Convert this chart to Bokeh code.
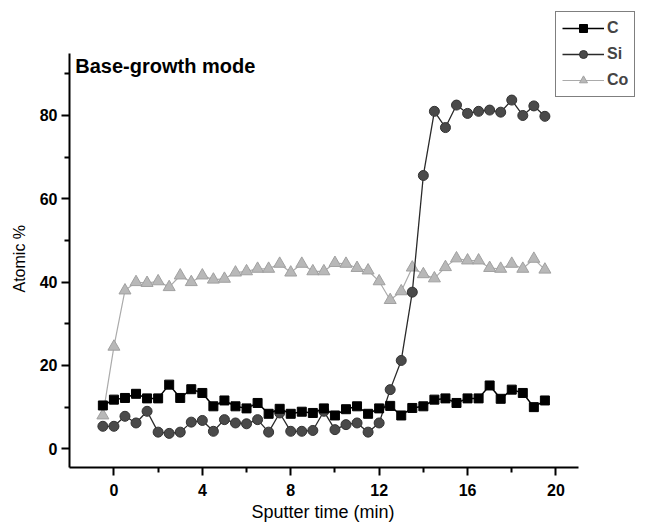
from bokeh.plotting import figure
from bokeh.models import FixedTicker, Legend, LegendItem, Label, Range1d, Title
from bokeh.embed import file_html
from bokeh.resources import INLINE

# ---- data ----
time_min = [-0.5, 0.0, 0.5, 1.0, 1.5, 2.0, 2.5, 3.0, 3.5, 4.0,
            4.5, 5.0, 5.5, 6.0, 6.5, 7.0, 7.5, 8.0, 8.5, 9.0,
            9.5, 10.0, 10.5, 11.0, 11.5, 12.0, 12.5, 13.0, 13.5, 14.0,
            14.5, 15.0, 15.5, 16.0, 16.5, 17.0, 17.5, 18.0, 18.5, 19.0, 19.5]
c_pct = [10.4, 11.8, 12.2, 13.2, 12.1, 12.1, 15.4, 12.2, 14.3, 13.4,
         10.2, 11.6, 10.2, 9.7, 11.0, 8.4, 9.6, 8.4, 8.9, 8.6,
         9.7, 8.0, 9.5, 10.2, 8.4, 9.7, 10.3, 8.0, 9.8, 10.2,
         11.8, 12.1, 11.0, 12.1, 12.1, 15.2, 12.0, 14.2, 13.4, 10.0, 11.6]
si_pct = [5.4, 5.4, 7.8, 6.2, 9.0, 4.0, 3.7, 4.0, 6.4, 6.8,
          4.2, 7.0, 6.2, 6.0, 7.0, 4.0, 8.6, 4.2, 4.2, 4.4,
          9.0, 4.6, 5.8, 6.2, 4.0, 6.2, 14.2, 21.2, 37.6, 65.6,
          81.0, 77.1, 82.5, 80.5, 81.0, 81.3, 80.8, 83.7, 80.0, 82.3, 79.8]
co_pct = [8.0, 24.5, 38.0, 40.0, 39.8, 40.2, 38.8, 41.6, 40.0, 41.6,
          40.6, 40.8, 42.3, 42.6, 43.2, 43.2, 44.4, 42.3, 44.4, 42.6,
          42.6, 44.6, 44.4, 43.4, 42.8, 40.2, 35.7, 37.8, 43.5, 41.9,
          40.9, 43.6, 45.7, 45.2, 45.2, 43.4, 43.2, 44.4, 43.2, 45.6, 43.0]
x_ticks = [0, 4, 8, 12, 16, 20]
x_minor = [2, 6, 10, 14, 18]
y_ticks = [0, 20, 40, 60, 80]
y_minor = [10, 30, 50, 70, 90]
x_axis_span = (-2.01, 21.0)
y_axis_span = (-4.49, 94.9)
series_names = ["C", "Si", "Co"]

FONT = "Liberation Sans"

# frame extended to the right/top so the legend (outside the axes) is not clipped;
# the axes themselves are limited with bounds
p = figure(width=639, height=523, output_backend="svg", toolbar_location=None,
           x_range=Range1d(-2.01, 23.78), y_range=Range1d(-4.49, 106.4),
           min_border_left=69, min_border_right=0,
           min_border_top=5, min_border_bottom=56)
p.outline_line_color = None
p.xgrid.visible = False
p.ygrid.visible = False
p.background_fill_color = "white"
p.border_fill_color = "white"

p.xaxis.ticker = FixedTicker(ticks=x_ticks, minor_ticks=x_minor)
p.yaxis.ticker = FixedTicker(ticks=y_ticks, minor_ticks=y_minor)
p.xaxis.bounds = x_axis_span
p.yaxis.bounds = y_axis_span
for ax in (p.xaxis[0], p.yaxis[0]):
    ax.axis_line_width = 2
    ax.axis_line_color = "black"
    ax.major_tick_in = 0
    ax.major_tick_out = 8
    ax.minor_tick_in = 0
    ax.minor_tick_out = 5
    ax.major_tick_line_width = 2
    ax.minor_tick_line_width = 2
    ax.major_tick_line_color = "black"
    ax.minor_tick_line_color = "black"
    ax.major_label_text_font = FONT
    ax.major_label_text_font_size = "16px"
    ax.major_label_text_font_style = "bold"
    ax.major_label_text_color = "black"
p.xaxis.major_label_standoff = 8
p.yaxis.major_label_standoff = 4

p.add_layout(Title(text="Sputter time (min)", align="left", offset=182,
                   text_font=FONT, text_font_size="18px",
                   text_font_style="normal", text_color="black",
                   standoff=2), "below")
p.add_layout(Title(text="Atomic %", align="left", offset=175,
                   text_font=FONT, text_font_size="16px",
                   text_font_style="normal", text_color="black",
                   standoff=17), "left")

# draw order: Co (back), Si, C (front)
co_line = p.line(time_min, co_pct, line_color="#ababab", line_width=1.2)
co_pts = p.scatter(time_min, co_pct, marker="triangle", size=12,
                   fill_color="#b8b8b8", line_color="#a0a0a0")
si_line = p.line(time_min, si_pct, line_color="#2a2a2a", line_width=1.3)
si_pts = p.scatter(time_min, si_pct, marker="circle", size=10,
                   fill_color="#4a4a4a", line_color="#333333")
c_line = p.line(time_min, c_pct, line_color="black", line_width=1.5)
c_pts = p.scatter(time_min, c_pct, marker="square", size=9,
                  fill_color="black", line_color="black")

legend = Legend(items=[
    LegendItem(label=series_names[0], renderers=[c_line, c_pts]),
    LegendItem(label=series_names[1], renderers=[si_line, si_pts]),
    LegendItem(label=series_names[2], renderers=[co_line, co_pts]),
], location=(486, 370))
legend.border_line_color = "black"
legend.border_line_width = 1.5
legend.background_fill_color = "white"
legend.background_fill_alpha = 1.0
legend.label_text_font = FONT
legend.label_text_font_size = "16px"
legend.label_text_font_style = "bold"
legend.glyph_width = 42
legend.glyph_height = 20
legend.label_height = 20
legend.spacing = 6
legend.padding = 6
legend.margin = 0
legend.label_standoff = 3
p.add_layout(legend)

p.add_layout(Label(x=-1.75, y=94.6, text="Base-growth mode",
                   text_font=FONT, text_font_size="20px",
                   text_font_style="bold", text_baseline="top",
                   text_align="left", text_color="black"))

open("out.html", "w").write(file_html(p, INLINE))
